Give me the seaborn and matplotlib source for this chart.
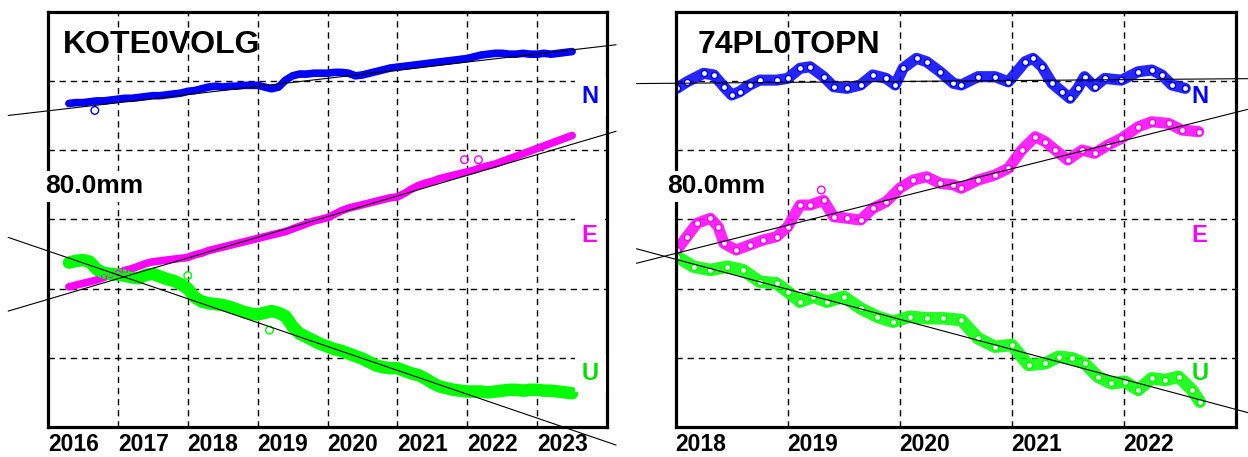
import numpy as np
import pandas as pd
import matplotlib
matplotlib.use("Agg")
import matplotlib.pyplot as plt
import seaborn as sns

# ---------------- data (mm) ----------------
# Left station KOTE0VOLG
T_L = [2016.3, 2016.4, 2016.5, 2016.6, 2016.7, 2016.8, 2016.9, 2017.0, 2017.1, 2017.2,
       2017.3, 2017.4, 2017.5, 2017.6, 2017.7, 2017.8, 2017.9, 2018.0, 2018.1, 2018.2,
       2018.3, 2018.4, 2018.5, 2018.6, 2018.7, 2018.8, 2018.9, 2019.0, 2019.1, 2019.2,
       2019.3, 2019.4, 2019.5, 2019.6, 2019.7, 2019.8, 2019.9, 2020.0, 2020.1, 2020.2,
       2020.3, 2020.4, 2020.5, 2020.6, 2020.7, 2020.8, 2020.9, 2021.0, 2021.1, 2021.2,
       2021.3, 2021.4, 2021.5, 2021.6, 2021.7, 2021.8, 2021.9, 2022.0, 2022.1, 2022.2,
       2022.3, 2022.4, 2022.5, 2022.6, 2022.7, 2022.8, 2022.9, 2023.0, 2023.1, 2023.2,
       2023.3, 2023.4, 2023.5]
N_L = [374, 375, 375, 376, 377, 377, 378, 379, 380, 380,
       381, 382, 383, 383, 384, 385, 386, 388, 389, 391,
       393, 394, 393, 394, 394, 395, 395, 395, 393, 391,
       393, 401, 406, 408, 408, 409, 409, 409, 410, 410,
       409, 406, 407, 409, 411, 413, 415, 416, 417, 418,
       419, 420, 421, 422, 423, 424, 425, 426, 428, 430,
       431, 432, 432, 431, 431, 432, 431, 431, 432, 431,
       432, 433, 434]
E_L = [162, 164, 166, 168, 170, 173, 176, 178, 181, 183,
       186, 189, 191, 192, 193, 194, 195, 196, 199, 201,
       204, 206, 208, 210, 212, 214, 216, 218, 220, 222,
       224, 226, 229, 232, 235, 238, 240, 242, 246, 250,
       253, 255, 257, 259, 261, 263, 265, 266, 270, 275,
       279, 282, 284, 287, 289, 291, 293, 295, 297, 300,
       302, 304, 307, 310, 313, 316, 319, 322, 325, 328,
       331, 334, 337]
U_L = [190, 192, 193, 191, 182, 178, 177, 176, 175, 173,
       172, 176, 177, 174, 171, 169, 165, 160, 150, 145,
       143, 142, 141, 139, 136, 133, 131, 130, 132, 134,
       132, 128, 116, 108, 104, 100, 96, 93, 90, 88,
       85, 82, 79, 75, 71, 69, 68, 68, 65, 62,
       60, 56, 51, 47, 45, 43, 42, 41, 41, 41,
       40, 41, 42, 43, 43, 42, 43, 43, 42, 42,
       41, 40, 39]
OUT_L_T = {"N": [2016.67], "E": [2021.96, 2022.16], "U": [2018.0, 2019.17]}
OUT_L_V = {"N": [366], "E": [309, 309], "U": [175, 112]}
# trend lines: value at epoch, rate mm/yr
TREND_L_EPOCH = 2016.0
TREND_L_VALUE = {"N": 365.5, "E": 147.6, "U": 203.5}
TREND_L_RATE = {"N": 9.4, "E": 23.9, "U": -27.6}

# Right station 74PL0TOPN
TN_R = [2018.01, 2018.10, 2018.25, 2018.34, 2018.43, 2018.50, 2018.57, 2018.66, 2018.75, 2018.90,
        2019.00, 2019.11, 2019.20, 2019.32, 2019.41, 2019.53, 2019.65, 2019.76, 2019.88, 2019.96,
        2020.03, 2020.15, 2020.24, 2020.36, 2020.48, 2020.55, 2020.70, 2020.85, 2020.97, 2021.12,
        2021.19, 2021.27, 2021.36, 2021.45, 2021.52, 2021.59, 2021.65, 2021.74, 2021.83, 2021.98,
        2022.13, 2022.25, 2022.34, 2022.43, 2022.55]
N_R = [391.5, 399, 408.9, 407, 393.4, 383.8, 387.6, 395.4, 401, 401,
       403, 414.7, 416.5, 405, 393.4, 391.5, 395.4, 407, 403, 395.4,
       414.7, 426.2, 422.3, 410.7, 397.3, 395.4, 405, 405, 399, 422.3,
       426.2, 416.5, 397.3, 387.6, 380, 391.5, 405, 393.4, 403, 401,
       410.7, 412.7, 407, 395.4, 391.5]
TE_R = [2018.01, 2018.10, 2018.19, 2018.31, 2018.38, 2018.43, 2018.54, 2018.66, 2018.78, 2018.90,
        2019.00, 2019.11, 2019.20, 2019.32, 2019.41, 2019.53, 2019.65, 2019.76, 2019.88, 2020.00,
        2020.12, 2020.24, 2020.36, 2020.48, 2020.55, 2020.70, 2020.85, 2020.97, 2021.09, 2021.21,
        2021.30, 2021.39, 2021.50, 2021.63, 2021.74, 2021.86, 2021.98, 2022.13, 2022.25, 2022.40,
        2022.52, 2022.67]
E_R = [204.6, 220, 235.5, 241.3, 231.5, 212.4, 204.6, 210.4, 216.2, 220,
       231.5, 256.6, 256.6, 262, 243.1, 241.3, 239.3, 252.8, 260.4, 276,
       285.5, 289.3, 281.7, 280, 276, 285.5, 291.3, 299, 320.2, 335.6,
       329.8, 320.2, 308.7, 320.2, 316.4, 326, 333.7, 347.1, 352.9, 351,
       343.3, 341.4]
TU_R = [2018.01, 2018.16, 2018.31, 2018.46, 2018.60, 2018.75, 2018.90, 2019.00, 2019.11, 2019.23,
        2019.35, 2019.50, 2019.65, 2019.80, 2019.94, 2020.09, 2020.24, 2020.39, 2020.55, 2020.70,
        2020.85, 2021.00, 2021.15, 2021.30, 2021.42, 2021.54, 2021.65, 2021.77, 2021.89, 2022.01,
        2022.13, 2022.25, 2022.37, 2022.49, 2022.61, 2022.68]
U_R = [196.9, 185.3, 181.5, 185.3, 181.5, 168, 166.1, 156.4, 144.8, 150.6,
       144.8, 150.6, 137.2, 127.5, 121.7, 127.5, 125.7, 125.7, 123.7, 102.5,
       92.8, 94.8, 71.7, 73.6, 81.3, 79.4, 73.6, 58.1, 50.5, 52.4,
       42.8, 56.3, 54.3, 58.1, 42.8, 29.2]
OUT_R_T = {"N": [], "E": [2019.30], "U": []}
OUT_R_V = {"N": [], "E": [274], "U": []}
TREND_R_EPOCH = 2018.0
TREND_R_VALUE = {"N": 397.4, "E": 200.7, "U": 193.9}
TREND_R_RATE = {"N": 1.04, "E": 32.6, "U": -34.7}

COMPONENTS = ["N", "E", "U"]
LABEL_Y = {"N": 374, "E": 214, "U": 54}
STATIONS = ["KOTE0VOLG", "74PL0TOPN"]
YEARS_L = [2016, 2017, 2018, 2019, 2020, 2021, 2022, 2023]
YEARS_R = [2018, 2019, 2020, 2021, 2022]
GRID_MM = [80, 160, 240, 320, 400]

# ---------------- style ----------------
COLORS = {"N": "#0000FF", "E": "#FF00FF", "U": "#00FF00"}
LABEL_COLORS = {"N": "#0000FF", "E": "#FF00FF", "U": "#00E000"}

sns.set_style("white")
plt.rcParams["font.family"] = ["Liberation Sans", "DejaVu Sans"]
plt.rcParams["font.weight"] = "bold"

W, H = 1248, 457
fig = plt.figure(figsize=(W / 100, H / 100), dpi=100)
ax_l = fig.add_axes([48 / W, 30 / H, 559 / W, 415.2 / H])
ax_r = fig.add_axes([675.7 / W, 30 / H, 560 / W, 415.2 / H])


def draw_panel(ax, name, series, outl_t, outl_v, t_epoch, t_val, t_rate,
               xlim, years, trend_span, lab_x, band_lw, band_alpha, lab_box,
               title_x, mm_x, marker_fc, marker_s):
    for comp in COMPONENTS:
        t, v = series[comp]
        df = pd.DataFrame({"t": t, "v": v})
        c = COLORS[comp]
        sns.lineplot(data=df, x="t", y="v", ax=ax, color=c, lw=band_lw[comp],
                     alpha=band_alpha, estimator=None, sort=False, legend=False,
                     zorder=2, solid_capstyle="round", solid_joinstyle="round")
        sns.scatterplot(data=df, x="t", y="v", ax=ax, marker="o", s=marker_s,
                        color=c, facecolors=marker_fc, edgecolor=c,
                        linewidth=1.0, legend=False, zorder=3)
        if outl_t[comp]:
            odf = pd.DataFrame({"t": outl_t[comp], "v": outl_v[comp]})
            sns.scatterplot(data=odf, x="t", y="v", ax=ax, marker="o", s=30,
                            color=c, facecolors="none", edgecolor=c,
                            linewidth=1.0, legend=False, zorder=3)
        # trend line
        ts = np.array(trend_span)
        vs = t_val[comp] + t_rate[comp] * (ts - t_epoch)
        ax.plot(ts, vs, color="k", lw=0.8, clip_on=False, zorder=5)
        # component label
        kw = dict(transform=ax.get_yaxis_transform(), color=LABEL_COLORS[comp],
                  fontsize=17, fontweight="bold", ha="left", va="baseline",
                  zorder=6)
        if lab_box:
            kw["bbox"] = dict(boxstyle="square,pad=0.3", fc="white", ec="none")
        ax.text(lab_x, LABEL_Y[comp], comp, **kw)

    ax.set_xlim(*xlim)
    ax.set_ylim(0, 480)
    ax.set_xticks(years, labels=[str(y) for y in years], ha="left",
                  fontsize=16.5, fontweight="bold")
    ax.set_yticks(GRID_MM)
    ax.tick_params(axis="both", length=0, labelleft=False, pad=4,
                   labelcolor="black")
    ax.grid(True, color="black", lw=1.0, ls=(0, (4.5, 3.5)), zorder=1)
    ax.set_axisbelow(True)
    ax.set_xlabel("")
    ax.set_ylabel("")
    for s in ax.spines.values():
        s.set_linewidth(2.3)
        s.set_color("black")
        s.set_zorder(4)
    ax.text(title_x, 0.901, name, transform=ax.transAxes, fontsize=23,
            fontweight="bold", color="black", ha="left", va="baseline", zorder=7)
    ax.text(mm_x, 0.5624, "80.0mm", transform=ax.transAxes, fontsize=19,
            fontweight="bold", color="black", ha="left", va="baseline",
            zorder=7, clip_on=False,
            bbox=dict(boxstyle="square,pad=0.12", fc="white", ec="none"))


draw_panel(ax_l, STATIONS[0],
           {"N": (T_L, N_L), "E": (T_L, E_L), "U": (T_L, U_L)},
           OUT_L_T, OUT_L_V, TREND_L_EPOCH, TREND_L_VALUE, TREND_L_RATE,
           (2016, 2024), YEARS_L, (2015.43, 2024.13), 0.9548,
           {"N": 5.5, "E": 5.5, "U": 9.0}, 1.0, True, 0.026, -0.006,
           "none", 14)
draw_panel(ax_r, STATIONS[1],
           {"N": (TN_R, N_R), "E": (TE_R, E_R), "U": (TU_R, U_R)},
           OUT_R_T, OUT_R_V, TREND_R_EPOCH, TREND_R_VALUE, TREND_R_RATE,
           (2018, 2023), YEARS_R, (2017.65, 2023.2), 0.9214,
           {"N": 8.0, "E": 8.0, "U": 9.0}, 0.85, False, 0.040, -0.016,
           "white", 20)

fig.savefig("out.png", dpi=100)
